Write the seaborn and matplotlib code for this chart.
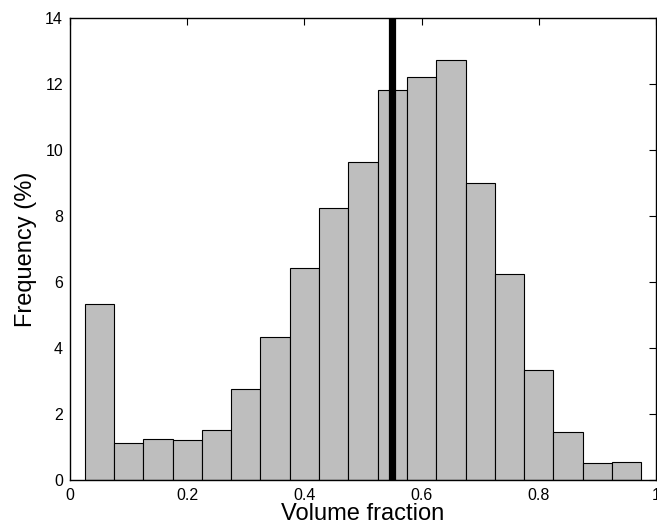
import matplotlib
matplotlib.use('Agg')
import matplotlib.pyplot as plt
import numpy as np
import seaborn as sns

# bin centres and frequency (%)
bin_centres = [0.05, 0.10, 0.15, 0.20, 0.25, 0.30, 0.35, 0.40, 0.45, 0.50,
               0.55, 0.60, 0.65, 0.70, 0.75, 0.80, 0.85, 0.90, 0.95]
frequency = [5.32, 1.11, 1.25, 1.21, 1.51, 2.76, 4.34, 6.41, 8.24, 9.64,
             11.82, 12.21, 12.74, 8.99, 6.24, 3.32, 1.45, 0.53, 0.56]
bin_edges = [0.025 + 0.05 * i for i in range(20)]
mean_fraction = 0.55

sns.set_style('white', {'text.color': 'black', 'axes.labelcolor': 'black',
                        'xtick.color': 'black', 'ytick.color': 'black',
                        'axes.edgecolor': 'black'})
plt.rcParams['font.family'] = ['Liberation Sans', 'DejaVu Sans']

fig = plt.figure(figsize=(6.57, 5.30), dpi=100)
ax = fig.add_axes([0.1065, 0.0943, 0.892, 0.8717])

sns.histplot(x=bin_centres, weights=frequency, bins=bin_edges, ax=ax,
             color='#bebebe', alpha=1.0, edgecolor='black', linewidth=0.8)
ax.axvline(mean_fraction, color='black', linewidth=5.2)

ax.set_xlim(0, 1)
ax.set_ylim(0, 14)
ax.set_xticks(np.arange(0, 1.01, 0.2))
ax.set_xticklabels(['0', '0.2', '0.4', '0.6', '0.8', '1'])
ax.set_yticks(range(0, 15, 2))
ax.tick_params(direction='in', top=True, right=True, length=5, width=0.8,
               labelsize=11.5, colors='black')
ax.tick_params(axis='x', pad=6)
ax.tick_params(axis='y', pad=5)
for s in ax.spines.values():
    s.set_color('black')
    s.set_linewidth(1.0)
ax.set_xlabel('Volume fraction', fontsize=17, labelpad=0, color='black')
ax.set_ylabel('Frequency (%)', fontsize=17, labelpad=6, color='black')

fig.savefig('out.png', dpi=100)
